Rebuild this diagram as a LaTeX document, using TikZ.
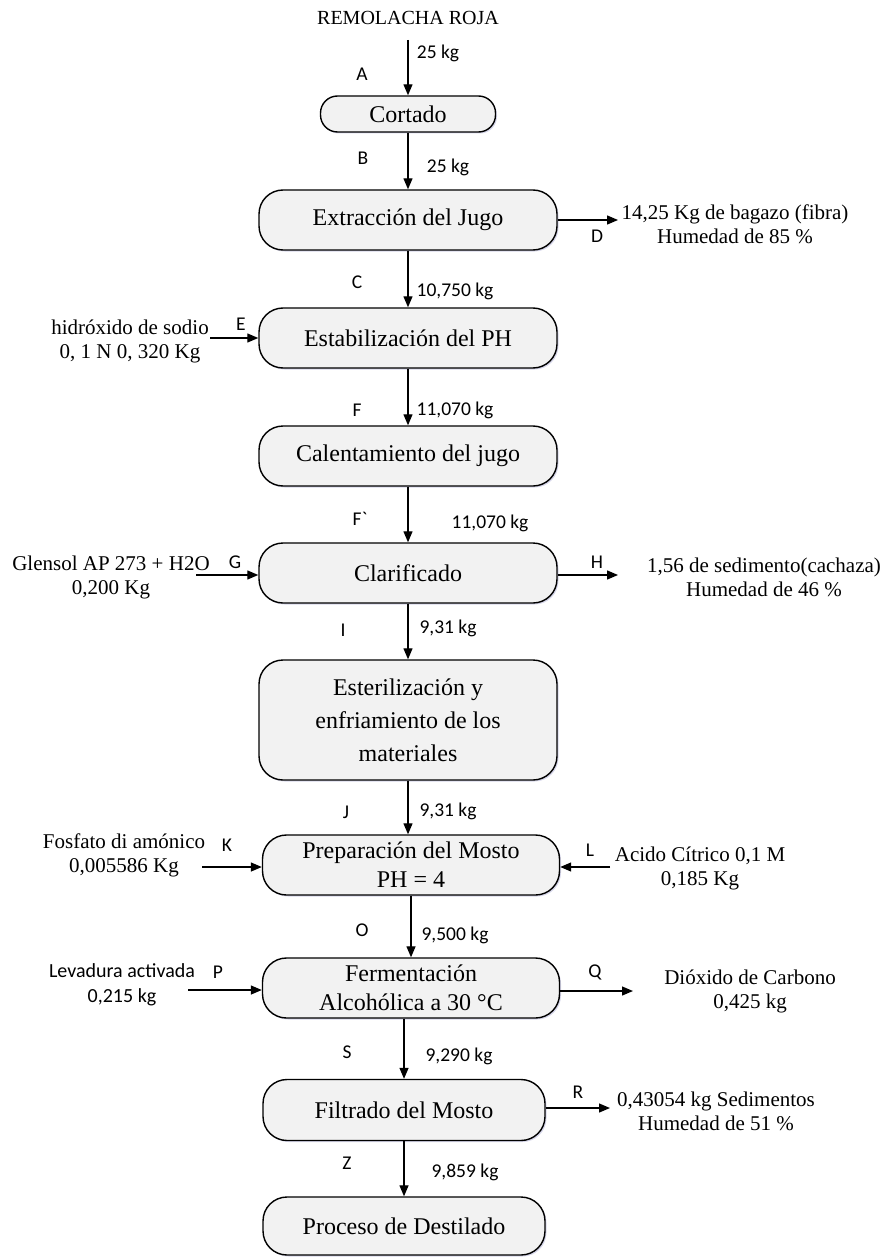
\documentclass[tikz,border=0pt]{standalone}
\usepackage{fontspec}
\setmainfont{Liberation Serif}
\newfontfamily\sansf{Carlito}
\usetikzlibrary{arrows.meta,shadows}
\begin{document}
\begin{tikzpicture}[x=1pt,y=-1pt,
  box/.style={draw=black,line width=1.4pt,fill=gray!10,rounded corners=24pt,
    align=center,inner sep=0pt,font=\fontsize{24}{29}\selectfont,
    drop shadow={shadow xshift=1.5pt,shadow yshift=-1.5pt,fill=blue!30!gray,opacity=0.25}},
  arr/.style={line width=1.3pt,-{Triangle[length=11pt,width=9pt]}},
  lbl/.style={font=\sansf\fontsize{19.5}{23}\selectfont,inner sep=0pt},
  side/.style={align=center,inner sep=0pt,font=\fontsize{21}{24}\selectfont},
  sideS/.style={align=center,inner sep=0pt,font=\sansf\fontsize{20}{25}\selectfont}]
\useasboundingbox (0,0) rectangle (885,1257);

% boxes
\node[box,minimum width=175pt,minimum height=36pt,rounded corners=17pt] (cort) at (408,114) {Cortado};
\node[box,minimum width=298pt,minimum height=60pt] (extr) at (408,220) {Extracción del Jugo};
\node[box,minimum width=298pt,minimum height=60pt] (estab) at (408,338) {Estabilización del PH};
\node[box,minimum width=298pt,minimum height=60pt] (calent) at (408,456) {Calentamiento del jugo};
\node[box,minimum width=298pt,minimum height=60pt] (clar) at (408,573) {Clarificado};
\node[box,minimum width=298pt,minimum height=120pt,font=\fontsize{24}{33}\selectfont] (ester) at (408,720) {Esterilización y\\enfriamiento de los\\materiales};
\node[box,minimum width=297pt,minimum height=60pt] (prep) at (411,865) {Preparación del Mosto\\PH = 4};
\node[box,minimum width=297pt,minimum height=60pt] (ferm) at (411,988) {Fermentación\\Alcohólica a 30 °C};
\node[box,minimum width=282pt,minimum height=61pt] (filt) at (404,1110) {Filtrado del Mosto};
\node[box,minimum width=282pt,minimum height=58pt] (dest) at (404,1226) {Proceso de Destilado};

% top input
\node[inner sep=0pt,font=\fontsize{20}{23}\selectfont] (top) at (408,18) {REMOLACHA ROJA};
\coordinate (a0) at (408,40);
\draw[arr] (a0) -- (cort.north);
\node[lbl] (lA) at (362,74) {A};
\node[lbl] (mA) at (438,53) {25 kg};

% main vertical flow
\draw[arr] (cort.south) -- (extr.north);
\node[lbl] (lB) at (363,158) {B};
\node[lbl] (mB) at (448,167) {25 kg};

\draw[arr] (extr.south) -- (estab.north);
\node[lbl] (lC) at (357,282) {C};
\node[lbl] (mC) at (455,291) {10,750 kg};

\draw[arr] (estab.south) -- (calent.north);
\node[lbl] (lF) at (357,410) {F};
\node[lbl] (mF) at (455,410) {11,070 kg};

\draw[arr] (calent.south) -- (clar.north);
\node[lbl] (lF2) at (360,519) {F`};
\node[lbl] (mF2) at (490,523) {11,070 kg};

\draw[arr] (clar.south) -- (ester.north);
\node[lbl] (lI) at (343,630) {I};
\node[lbl] (mI) at (448,628) {9,31 kg};

\draw[arr] (ester.south) -- (ester.south |- prep.north);
\node[lbl] (lJ) at (346,812) {J};
\node[lbl] (mJ) at (448,811) {9,31 kg};

\draw[arr] (prep.south) -- (prep.south |- ferm.north);
\node[lbl] (lO) at (362,930) {O};
\node[lbl] (mO) at (455,935) {9,500 kg};

\draw[arr] (filt.north |- ferm.south) -- (filt.north);
\node[lbl] (lS) at (347,1052) {S};
\node[lbl] (mS) at (459,1056) {9,290 kg};

\draw[arr] (filt.south) -- (dest.north);
\node[lbl] (lZ) at (347,1163) {Z};
\node[lbl] (mZ) at (465,1172) {9,859 kg};

% D output
\coordinate (dEnd) at (618,220);
\draw[arr] (extr.east) -- (dEnd);
\node[lbl] (lD) at (597,236) {D};
\node[side] (tD) at (735,224) {14,25 Kg de bagazo (fibra)\\Humedad de 85 \%};

% E input
\coordinate (eStart) at (210,338);
\draw[arr] (eStart) -- (estab.west);
\node[lbl] (lE) at (241,324) {E};
\node[side] (tE) at (130,341) {hidróxido de sodio\\0, 1 N 0, 320 Kg};

% G input
\coordinate (gStart) at (196,575);
\draw[arr] (gStart) -- (clar.west |- gStart);
\node[lbl] (lG) at (235,562) {G};
\node[side] (tG) at (111,577) {Glensol AP 273 + H2O\\0,200 Kg};

% H output
\coordinate (hEnd) at (618,575);
\draw[arr] (clar.east |- hEnd) -- (hEnd);
\node[lbl] (lH) at (597,562) {H};
\node[side] (tH) at (764,577) {1,56 de sedimento(cachaza)\\Humedad de 46 \%};

% K input
\coordinate (kStart) at (202,867);
\draw[arr] (kStart) -- (prep.west |- kStart);
\node[lbl] (lK) at (227,845) {K};
\node[side] (tK) at (124,855) {Fosfato di amónico\\0,005586 Kg};

% L input
\coordinate (lStart) at (610,867);
\draw[arr] (lStart) -- (prep.east |- lStart);
\node[lbl] (lL) at (590,850) {L};
\node[side] (tL) at (700,868) {Acido Cítrico 0,1 M\\0,185 Kg};

% P input
\coordinate (pStart) at (188,990);
\draw[arr] (pStart) -- (ferm.west |- pStart);
\node[lbl] (lP) at (218,972) {P};
\node[sideS] (tP) at (122,985) {Levadura activada\\0,215 kg};

% Q output
\coordinate (qEnd) at (633,991);
\draw[arr] (ferm.east |- qEnd) -- (qEnd);
\node[lbl] (lQ) at (595,972) {Q};
\node[side] (tQ) at (750,991) {Dióxido de Carbono\\0,425 kg};

% R output
\coordinate (rEnd) at (610,1108);
\draw[arr] (filt.east |- rEnd) -- (rEnd);
\node[lbl] (lR) at (578,1092) {R};
\node[side] (tR) at (716,1111) {0,43054 kg Sedimentos\\Humedad de 51 \%};
\end{tikzpicture}
\end{document}
